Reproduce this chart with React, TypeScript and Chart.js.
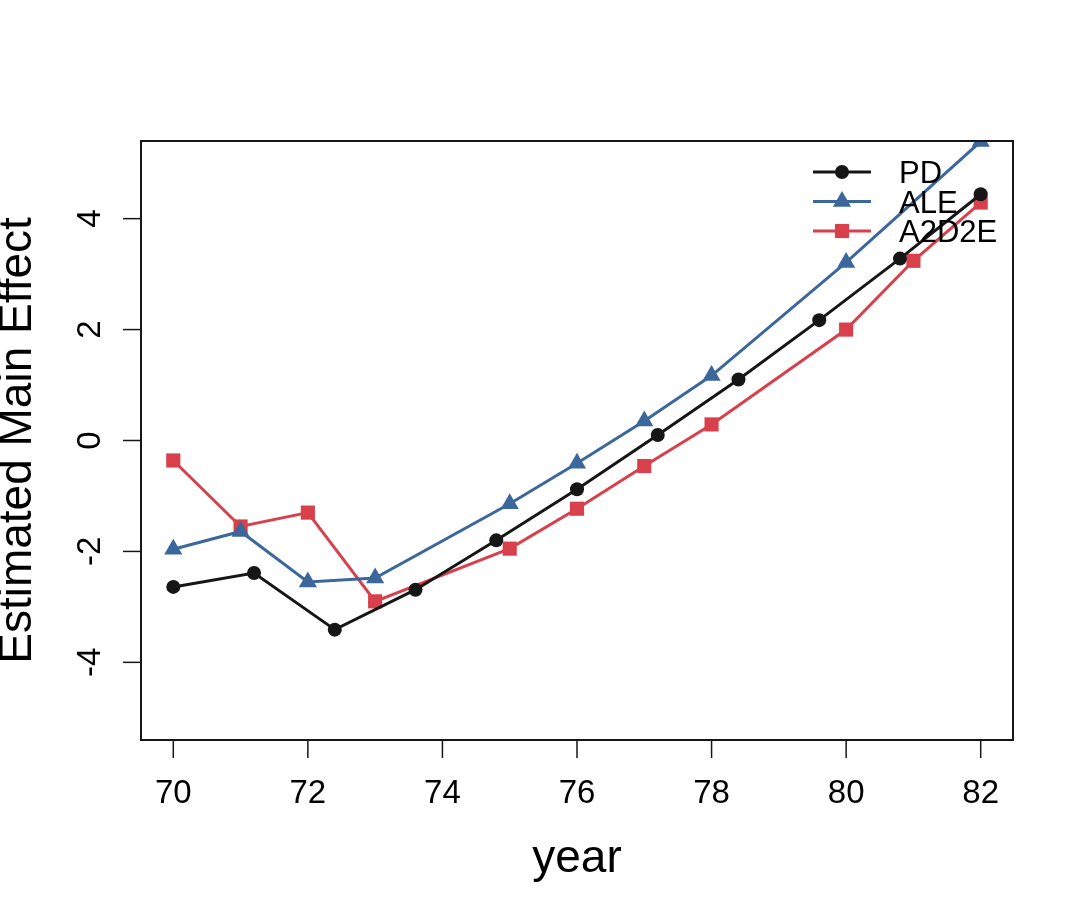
import React, { useEffect, useRef } from "react";
import { Chart, registerables } from "chart.js";

Chart.register(...registerables);

// ---- data ----
const pdYears = [70, 71.2, 72.4, 73.6, 74.8, 76, 77.2, 78.4, 79.6, 80.8, 82];
const pdValues = [-2.64, -2.39, -3.41, -2.69, -1.8, -0.88, 0.1, 1.1, 2.17, 3.28, 4.44];

const aleYears = [70, 71, 72, 73, 75, 76, 77, 78, 80, 82];
const aleValues = [-1.96, -1.64, -2.55, -2.48, -1.14, -0.41, 0.35, 1.17, 3.21, 5.39];

const a2d2eYears = [70, 71, 72, 73, 75, 76, 77, 78, 80, 81, 82];
const a2d2eValues = [-0.36, -1.55, -1.3, -2.9, -1.95, -1.23, -0.46, 0.29, 2.0, 3.24, 4.29];

const xTicks = [70, 72, 74, 76, 78, 80, 82];
const yTicks = [-4, -2, 0, 2, 4];

const seriesNames = ["PD", "ALE", "A2D2E"];
const xTitle = "year";
const yTitle = "Estimated Main Effect";

const BLACK = "#161616";
const BLUE = "#3c679c";
const RED = "#d8404b";
const FONT = "'Liberation Sans', Arial, Helvetica, sans-serif";

function toPoints(xs: number[], ys: number[]) {
  return xs.map((x, i) => ({ x, y: ys[i] }));
}

const styles = [
  { color: BLACK, pointStyle: "circle", radius: 7 },
  { color: BLUE, pointStyle: "triangle", radius: 10.5 },
  { color: RED, pointStyle: "rect", radius: 10 },
];

const axesPlugin = {
  id: "rAxes",
  afterDatasetsDraw(chart: any) {
    const ctx = chart.ctx;
    const area = chart.chartArea;
    const xs = chart.scales.x;
    const ys = chart.scales.y;
    ctx.save();
    // box
    ctx.strokeStyle = BLACK;
    ctx.lineWidth = 2;
    ctx.strokeRect(area.left, area.top, area.right - area.left, area.bottom - area.top);

    // x ticks
    ctx.lineWidth = 1.5;
    ctx.fillStyle = "#000";
    ctx.font = `33px ${FONT}`;
    ctx.textAlign = "center";
    ctx.textBaseline = "alphabetic";
    xTicks.forEach((t) => {
      const px = xs.getPixelForValue(t);
      ctx.beginPath();
      ctx.moveTo(px, area.bottom);
      ctx.lineTo(px, area.bottom + 18);
      ctx.stroke();
      ctx.fillText(String(t), px, 803);
    });
    // y ticks
    yTicks.forEach((t) => {
      const py = ys.getPixelForValue(t);
      ctx.beginPath();
      ctx.moveTo(area.left, py);
      ctx.lineTo(area.left - 18, py);
      ctx.stroke();
      ctx.save();
      ctx.translate(100, py);
      ctx.rotate(-Math.PI / 2);
      ctx.fillText(String(t), 0, 0);
      ctx.restore();
    });

    // titles
    ctx.font = `46px ${FONT}`;
    ctx.fillText(xTitle, (area.left + area.right) / 2, 872);
    ctx.save();
    ctx.translate(31, (area.top + area.bottom) / 2);
    ctx.rotate(-Math.PI / 2);
    ctx.fillText(yTitle, 0, 0);
    ctx.restore();

    // legend
    const rowY = [172, 201.5, 231];
    ctx.font = `31px ${FONT}`;
    ctx.textAlign = "left";
    seriesNames.forEach((name, i) => {
      const s = styles[i];
      const y = rowY[i];
      ctx.strokeStyle = s.color;
      ctx.fillStyle = s.color;
      ctx.lineWidth = 3;
      ctx.beginPath();
      ctx.moveTo(813, y);
      ctx.lineTo(871, y);
      ctx.stroke();
      ctx.beginPath();
      if (s.pointStyle === "circle") {
        ctx.arc(842, y, s.radius, 0, Math.PI * 2);
      } else if (s.pointStyle === "triangle") {
        const r = s.radius;
        ctx.moveTo(842, y - r);
        ctx.lineTo(842 + r * Math.sin((2 * Math.PI) / 3), y - r * Math.cos((2 * Math.PI) / 3));
        ctx.lineTo(842 + r * Math.sin((4 * Math.PI) / 3), y - r * Math.cos((4 * Math.PI) / 3));
        ctx.closePath();
      } else {
        const h = s.radius * Math.SQRT1_2;
        ctx.rect(842 - h, y - h, 2 * h, 2 * h);
      }
      ctx.fill();
      ctx.fillStyle = "#000";
      ctx.fillText(name, 899, y + 11);
    });
    ctx.restore();
  },
};

export default function App() {
  const ref = useRef<HTMLCanvasElement | null>(null);

  useEffect(() => {
    if (!ref.current) return;
    const seriesX = [pdYears, aleYears, a2d2eYears];
    const seriesY = [pdValues, aleValues, a2d2eValues];
    const chart = new Chart(ref.current, {
      type: "line",
      data: {
        datasets: seriesNames.map((name, i) => ({
          label: name,
          data: toPoints(seriesX[i], seriesY[i]),
          borderColor: styles[i].color,
          backgroundColor: styles[i].color,
          pointBackgroundColor: styles[i].color,
          pointBorderColor: styles[i].color,
          pointBorderWidth: 0,
          pointStyle: styles[i].pointStyle as any,
          pointRadius: styles[i].radius,
          borderWidth: 3,
          tension: 0,
          fill: false,
          clip: 0,
        })),
      },
      options: {
        animation: false,
        responsive: false,
        devicePixelRatio: 1,
        layout: { padding: { left: 141, right: 72, top: 141, bottom: 176 } },
        plugins: { legend: { display: false }, tooltip: { enabled: false } },
        events: [],
        scales: {
          x: { type: "linear", min: 69.52, max: 82.48, display: false },
          y: { type: "linear", min: -5.4, max: 5.4, display: false },
        },
      },
      plugins: [axesPlugin],
    });
    return () => chart.destroy();
  }, []);

  return (
    <div style={{ position: "absolute", left: 0, top: 0, width: 1085, height: 916, background: "#fff" }}>
      <canvas ref={ref} width={1085} height={916} style={{ width: 1085, height: 916 }} />
    </div>
  );
}
